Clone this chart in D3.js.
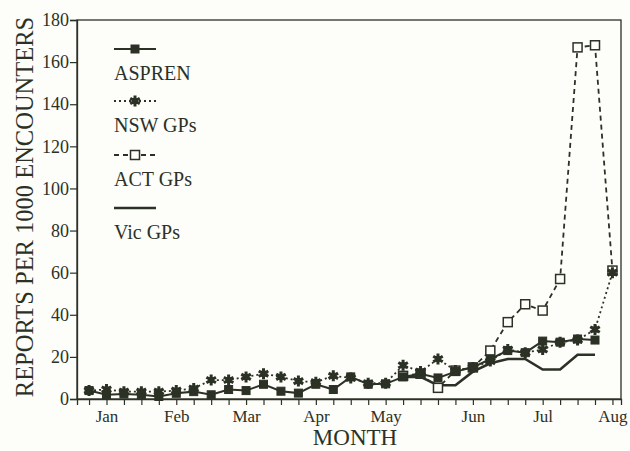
<!DOCTYPE html>
<html>
<head>
<meta charset="utf-8">
<script src="https://cdn.jsdelivr.net/npm/d3@7"></script>
<style>
  body { margin: 0; background: #fdfdf9; }
  svg text { font-family: "Liberation Serif", "Times New Roman", serif; fill: #2c3126; }
</style>
</head>
<body>
<div id="graph1"></div>
<script>
// week index 0..30 (Jan -> early Aug), values = reports per 1000 encounters
var aspren = [4, 2, 2.4, 2, 1.2, 2.7, 3.5, 2, 4.5, 4, 7, 3.7, 2.8, 7, 4.5,
              10.5, 7, 7.2, 10.5, 12, 10, 13, 15, 19, 23, 22, 27.5, 27, 28.5, 28];
var nswGPs = [4, 4.5, 3.5, 3.5, 3.5, 4, 5, 9, 9, 10.5, 12, 10.5, 8.5, 8, 11,
              10, 7.5, 7.5, 16, 13, 19, 13.5, 15, 18, 23.5, 22, 23.5, 27, 28, 33, 60];
var actGPs = [null, null, null, null, null, null, null, null, null, null, null, null, null, null, null,
              null, null, null, 11, 12, 5.3, 13.5, 15, 23, 36.5, 45, 42, 57, 167, 168, 61];
var vicGPs = [null, null, null, null, null, null, null, null, null, null, null, null, null, null, null,
              null, null, null, 10.5, 10.5, 6.5, 6.5, 13, 17, 19, 19, 14, 14, 21, 21];

var monthLabels = ["Jan", "Feb", "Mar", "Apr", "May", "Jun", "Jul", "Aug"];
var monthWeeks = [1, 5, 9, 13, 17, 22, 26, 30];
var yTicks = [0, 20, 40, 60, 80, 100, 120, 140, 160, 180];
var seriesNames = ["ASPREN", "NSW GPs", "ACT GPs", "Vic GPs"];

var ink = "#2c3126";

var margin = {top: 20, right: 9, bottom: 52, left: 77},
    width = 630 - margin.left - margin.right,
    height = 451 - margin.top - margin.bottom;

var x = d3.scaleLinear().domain([-0.69, 30.49]).range([0, width]);
var y = d3.scaleLinear().domain([0, 180]).range([height, 0]);

var svg = d3.select("#graph1").append("svg")
    .attr("width", 630)
    .attr("height", 451)
    .append("g")
    .attr("transform", "translate(" + margin.left + "," + margin.top + ")");

// frame
svg.append("rect")
    .attr("width", width).attr("height", height)
    .attr("fill", "none").attr("stroke", ink).attr("stroke-width", 1.3);

// x axis: weekly ticks, month names on some of them
var weekTicks = d3.range(31);
var xAxis = svg.append("g")
    .attr("transform", "translate(0," + height + ")")
    .call(d3.axisBottom(x).tickValues(weekTicks).tickSize(6).tickPadding(5)
        .tickFormat(function (d) {
            var i = monthWeeks.indexOf(d);
            return i < 0 ? "" : monthLabels[i];
        }));
xAxis.select(".domain").attr("stroke", ink).attr("stroke-width", 1.3);
xAxis.selectAll(".tick line").attr("stroke", ink).attr("stroke-width", 1.2);
xAxis.selectAll("text").style("font-size", "17px").attr("fill", ink);

// y axis
var yAxis = svg.append("g")
    .call(d3.axisLeft(y).tickValues(yTicks).tickSize(7).tickPadding(1));
yAxis.select(".domain").attr("stroke", ink).attr("stroke-width", 1.3);
yAxis.selectAll(".tick line").attr("stroke", ink).attr("stroke-width", 1.2);
yAxis.selectAll("text").style("font-size", "18px").attr("fill", ink);

// axis titles
svg.append("text")
    .attr("x", width / 2 + 6).attr("y", height + 46)
    .attr("text-anchor", "middle")
    .style("font-size", "23px")
    .text("MONTH");

svg.append("text")
    .attr("transform", "translate(" + (-44) + "," + 187 + ") rotate(-90)")
    .attr("text-anchor", "middle")
    .style("font-size", "24.5px")
    .text("REPORTS PER 1000 ENCOUNTERS");

var line = d3.line()
    .defined(function (d) { return d != null; })
    .x(function (d, i) { return x(i); })
    .y(function (d) { return y(d); });

function addLine(data, dash, w) {
    svg.append("path")
        .datum(data)
        .attr("fill", "none")
        .attr("stroke", ink)
        .attr("stroke-width", w)
        .attr("stroke-dasharray", dash)
        .attr("d", line);
}

addLine(vicGPs, null, 2.6);
addLine(actGPs, "5,4", 1.8);
addLine(nswGPs, "2,3", 1.8);
addLine(aspren, null, 2);

var star = d3.symbol().type(d3.symbolAsterisk).size(85);

function drawMarker(g, type) {
    if (type === "filled") {
        g.append("rect").attr("x", -4).attr("y", -4).attr("width", 8).attr("height", 8)
            .attr("fill", ink).attr("stroke", ink).attr("stroke-width", 1);
    } else if (type === "star") {
        g.append("path").attr("d", star).attr("fill", "none")
            .attr("stroke", ink).attr("stroke-width", 3);
        g.append("rect").attr("x", -3).attr("y", -3).attr("width", 6).attr("height", 6).attr("fill", ink);
    } else if (type === "hollow") {
        g.append("rect").attr("x", -4.5).attr("y", -4.5).attr("width", 9).attr("height", 9)
            .attr("fill", "#fdfdf9").attr("stroke", ink).attr("stroke-width", 1.5);
    }
}

function addMarkers(data, type) {
    data.forEach(function (d, i) {
        if (d == null) return;
        var g = svg.append("g").attr("transform", "translate(" + x(i) + "," + y(d) + ")");
        drawMarker(g, type);
    });
}

addMarkers(actGPs, "hollow");
addMarkers(nswGPs, "star");
addMarkers(aspren, "filled");

// legend
var legendTypes = ["filled", "star", "hollow", null];
var legendDash = [null, "2,3", "5,4", null];
var legendW = [1.8, 1.8, 1.8, 2.6];
var legendLineY = [29, 81, 135, 188];

seriesNames.forEach(function (name, i) {
    var g = svg.append("g").attr("transform", "translate(37," + legendLineY[i] + ")");
    g.append("line").attr("x1", 0).attr("x2", 42).attr("y1", 0).attr("y2", 0)
        .attr("stroke", ink).attr("stroke-width", legendW[i])
        .attr("stroke-dasharray", legendDash[i]);
    if (legendTypes[i]) {
        var m = g.append("g").attr("transform", "translate(21,0)");
        drawMarker(m, legendTypes[i]);
    }
    g.append("text").attr("x", 0).attr("y", 31)
        .style("font-size", "20px")
        .text(name);
});
</script>
</body>
</html>
